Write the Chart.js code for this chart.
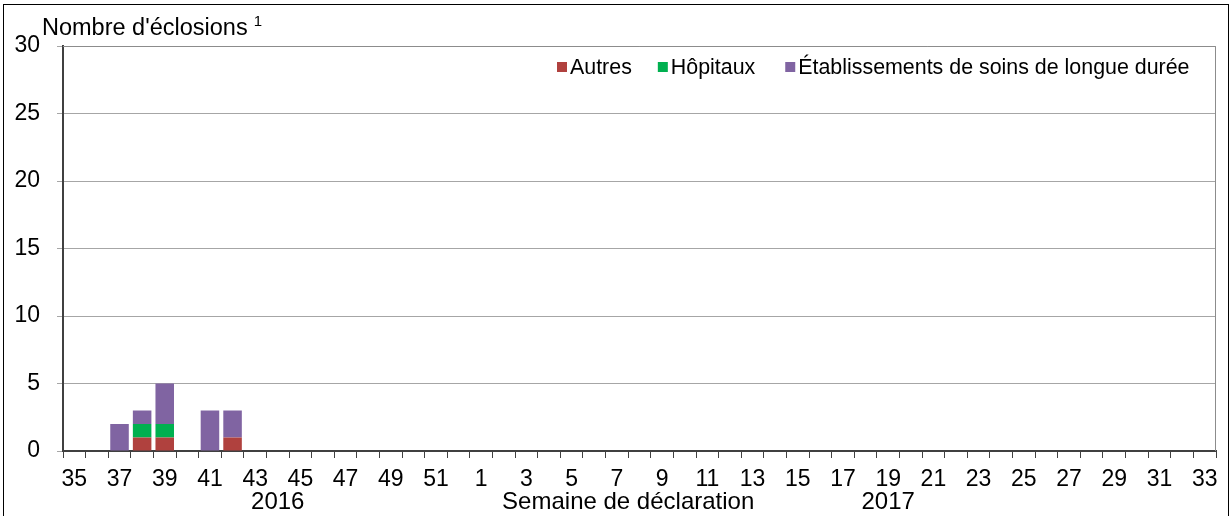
<!DOCTYPE html>
<html>
<head>
<meta charset="utf-8">
<script src="https://cdn.jsdelivr.net/npm/chart.js@4"></script>
<style>
  html, body { margin: 0; padding: 0; background: #fff; }
  #wrap { position: relative; width: 1232px; height: 516px; }
</style>
</head>
<body>
<div id="wrap"><canvas id="chart" width="1232" height="516"></canvas></div>
<script>
// Semaines de déclaration (2016: 35-52, 2017: 1-33)
const weeks = [
  35, 36, 37, 38, 39, 40, 41, 42, 43, 44, 45, 46, 47, 48, 49, 50, 51, 52,
  1, 2, 3, 4, 5, 6, 7, 8, 9, 10, 11, 12, 13, 14, 15, 16, 17, 18, 19, 20,
  21, 22, 23, 24, 25, 26, 27, 28, 29, 30, 31, 32, 33
];
const autres = [
  0, 0, 0, 1, 1, 0, 0, 1, 0, 0, 0, 0, 0, 0, 0, 0, 0, 0,
  0, 0, 0, 0, 0, 0, 0, 0, 0, 0, 0, 0, 0, 0, 0, 0, 0, 0, 0, 0,
  0, 0, 0, 0, 0, 0, 0, 0, 0, 0, 0, 0, 0
];
const hopitaux = [
  0, 0, 0, 1, 1, 0, 0, 0, 0, 0, 0, 0, 0, 0, 0, 0, 0, 0,
  0, 0, 0, 0, 0, 0, 0, 0, 0, 0, 0, 0, 0, 0, 0, 0, 0, 0, 0, 0,
  0, 0, 0, 0, 0, 0, 0, 0, 0, 0, 0, 0, 0
];
const etablissements = [
  0, 0, 2, 1, 3, 0, 3, 2, 0, 0, 0, 0, 0, 0, 0, 0, 0, 0,
  0, 0, 0, 0, 0, 0, 0, 0, 0, 0, 0, 0, 0, 0, 0, 0, 0, 0, 0, 0,
  0, 0, 0, 0, 0, 0, 0, 0, 0, 0, 0, 0, 0
];
const yTicks = [0, 5, 10, 15, 20, 25, 30];
const seriesNames = ['Autres', 'Hôpitaux', 'Établissements de soins de longue durée'];
const seriesColors = ['#b0413e', '#00b050', '#8064a2'];
const yearLabels = [{ text: '2016', index: 9 }, { text: '2017', index: 36 }];

const FONT = '"Liberation Sans", Arial, sans-serif';

const decor = {
  id: 'decor',
  beforeDraw(chart) {
    const ctx = chart.ctx;
    ctx.save();
    ctx.strokeStyle = '#000';
    ctx.lineWidth = 1;
    ctx.strokeRect(3.5, 4.5, 1225, 600);
    ctx.restore();
  },
  afterDraw(chart) {
    const ctx = chart.ctx;
    const a = chart.chartArea;
    const x = chart.scales.x;
    ctx.save();
    // plot border (top/right)
    ctx.strokeStyle = '#8c8c8c';
    ctx.lineWidth = 1;
    ctx.beginPath();
    ctx.moveTo(a.left, a.top + 0.5);
    ctx.lineTo(a.right - 0.5, a.top + 0.5);
    ctx.lineTo(a.right - 0.5, a.bottom);
    ctx.stroke();

    // y title
    ctx.fillStyle = '#000';
    ctx.textBaseline = 'alphabetic';
    ctx.textAlign = 'left';
    ctx.font = '23.5px ' + FONT;
    const t = "Nombre d'éclosions";
    ctx.fillText(t, a.left - 21, a.top - 11);
    const w = ctx.measureText(t).width;
    ctx.font = '15px ' + FONT;
    ctx.fillText('1', a.left - 21 + w + 6, a.top - 20);

    // bottom labels
    ctx.font = '24px ' + FONT;
    ctx.textAlign = 'center';
    const yb = a.bottom + 58;
    yearLabels.forEach(l => {
      ctx.fillText(l.text, x.getPixelForValue(l.index), yb);
    });
    const mid = (x.getPixelForValue(24) + x.getPixelForValue(25)) / 2;
    ctx.fillText('Semaine de déclaration', mid, yb);

    // legend inside plot
    ctx.font = '21.4px ' + FONT;
    ctx.textAlign = 'left';
    ctx.textBaseline = 'middle';
    let lx = 557;
    const ly = 67;
    const gaps = [26, 30, 0];
    seriesNames.forEach((n, i) => {
      ctx.fillStyle = seriesColors[i];
      ctx.fillRect(lx, ly - 5, 10, 10);
      ctx.fillStyle = '#000';
      ctx.fillText(n, lx + 13, ly + 1);
      lx += 13 + ctx.measureText(n).width + gaps[i];
    });
    ctx.restore();
  }
};

new Chart(document.getElementById('chart'), {
  type: 'bar',
  data: {
    labels: weeks,
    datasets: [
      { label: seriesNames[0], data: autres, backgroundColor: seriesColors[0] },
      { label: seriesNames[1], data: hopitaux, backgroundColor: seriesColors[1] },
      { label: seriesNames[2], data: etablissements, backgroundColor: seriesColors[2] }
    ]
  },
  options: {
    responsive: false,
    animation: false,
    devicePixelRatio: 1,
    layout: { padding: { top: 46, right: 16, left: 0, bottom: 0 } },
    datasets: { bar: { barPercentage: 0.82, categoryPercentage: 1 } },
    plugins: { legend: { display: false }, tooltip: { enabled: false } },
    scales: {
      x: {
        stacked: true,
        afterFit(s) { s.height = 65; },
        grid: { drawOnChartArea: false, offset: true, tickLength: 7, color: '#404040' },
        border: { color: '#404040', width: 2 },
        ticks: {
          autoSkip: false,
          maxRotation: 0,
          padding: 8,
          color: '#000',
          font: { family: FONT, size: 23 },
          callback: function(v, i) { return i % 2 === 0 ? String(weeks[i]) : ''; }
        }
      },
      y: {
        stacked: true,
        min: 0,
        max: 30,
        afterFit(s) { s.width = 63; },
        afterBuildTicks(s) { s.ticks = yTicks.map(v => ({ value: v })); },
        grid: { color: '#a6a6a6', tickLength: 6 },
        border: { color: '#404040', width: 2 },
        ticks: {
          padding: 17,
          color: '#000',
          font: { family: FONT, size: 23 }
        }
      }
    }
  },
  plugins: [decor]
});
</script>
</body>
</html>
